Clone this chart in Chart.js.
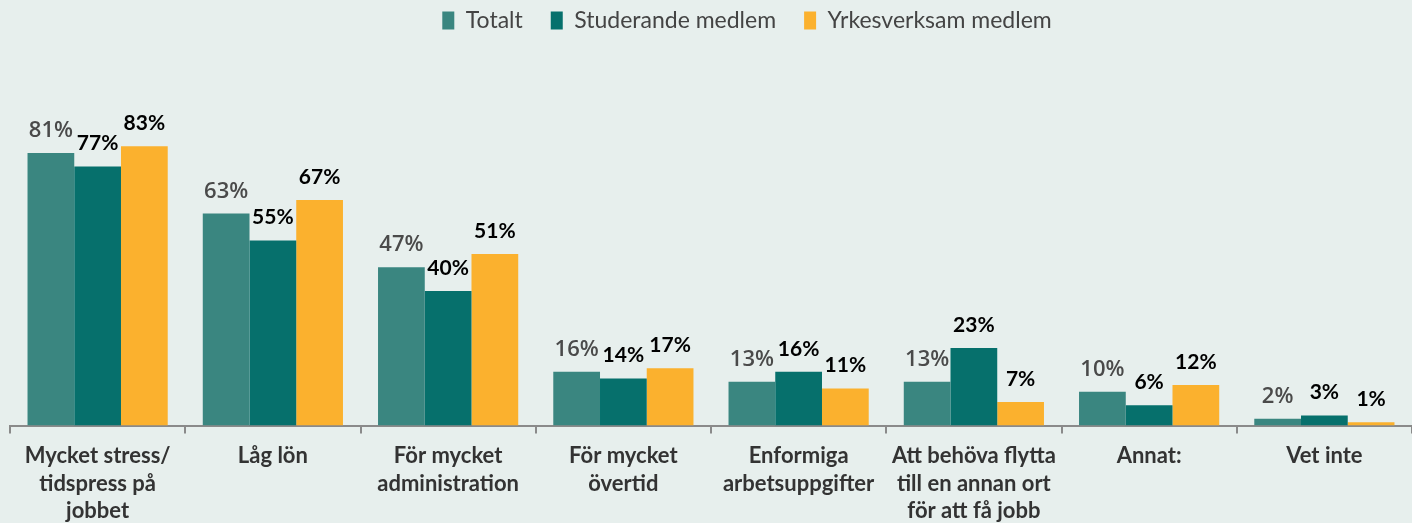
<!DOCTYPE html>
<html lang="sv">
<head>
<meta charset="UTF-8" />
<title>Orsaker</title>
<style>
  html,body{margin:0;padding:0;background:#e7efed;}
  #wrap{width:1412px;height:523px;}
</style>
<script src="https://cdn.jsdelivr.net/npm/chart.js@4.4.0/dist/chart.umd.min.js"></script>
</head>
<body>
<div id="wrap"><canvas id="c"></canvas></div>
<script>
// ===== data =====
const categories = [
  ["Mycket stress/","tidspress på","jobbet"],
  ["Låg lön"],
  ["För mycket","administration"],
  ["För mycket","övertid"],
  ["Enformiga","arbetsuppgifter"],
  ["Att behöva flytta","till en annan ort","för att få jobb"],
  ["Annat:"],
  ["Vet inte"]
];
const totalt      = [81,63,47,16,13,13,10,2];
const studerande  = [77,55,40,14,16,23,6,3];
const yrkes       = [83,67,51,17,11,7,12,1];

const FONT = 'Lato, "Open Sans", sans-serif';

// extra space under legend, legend nudged right
const legendMargin = {
  id:'legendMargin',
  beforeInit(chart){
    const fit = chart.legend.fit;
    chart.legend.fit = function(){ fit.bind(chart.legend)(); this.height += 47; };
  },
  afterLayout(chart){
    chart.legend.left += 36;
    chart.legend.right += 36;
  }
};

// value labels above bars
const valueLabels = {
  id:'valueLabels',
  afterDatasetsDraw(chart){
    const ctx = chart.ctx;
    ctx.save();
    ctx.textAlign = 'center';
    ctx.textBaseline = 'alphabetic';
    chart.data.datasets.forEach((ds,di)=>{
      const meta = chart.getDatasetMeta(di);
      meta.data.forEach((bar,i)=>{
        if(di===0){ ctx.font = '600 22px "Open Sans", sans-serif'; ctx.fillStyle = '#4a4a4a'; }
        else { ctx.font = 'bold 21px '+FONT; ctx.fillStyle = '#000'; }
        ctx.fillText(ds.data[i]+'%', bar.x, bar.y-16);
      });
    });
    ctx.restore();
  }
};

new Chart(document.getElementById('c'),{
  type:'bar',
  data:{
    labels:categories,
    datasets:[
      {label:'Totalt', data:totalt, backgroundColor:'#3a8680'},
      {label:'Studerande medlem', data:studerande, backgroundColor:'#06706c'},
      {label:'Yrkesverksam medlem', data:yrkes, backgroundColor:'#fbb12e'}
    ]
  },
  options:{
    responsive:true,
    maintainAspectRatio:false,
    animation:false,
    layout:{padding:{left:10,right:0,top:-19,bottom:-11}},
    datasets:{bar:{categoryPercentage:0.8,barPercentage:1.0}},
    plugins:{
      legend:{
        position:'top',
        labels:{
          boxWidth:12, boxHeight:18, padding:28,
          color:'#444', font:{family:FONT,size:23}
        }
      },
      tooltip:{enabled:false}
    },
    scales:{
      x:{
        grid:{offset:true, drawOnChartArea:false, drawTicks:true, tickLength:8, color:'#8a8a8a', lineWidth:2},
        border:{color:'#8a8a8a', width:2},
        ticks:{color:'#333', font:{family:FONT,size:22,weight:'bold',lineHeight:1.25}, maxRotation:0, autoSkip:false, padding:9}
      },
      y:{
        display:false,
        min:0, max:100
      }
    }
  },
  plugins:[legendMargin, valueLabels]
});
</script>
</body>
</html>
